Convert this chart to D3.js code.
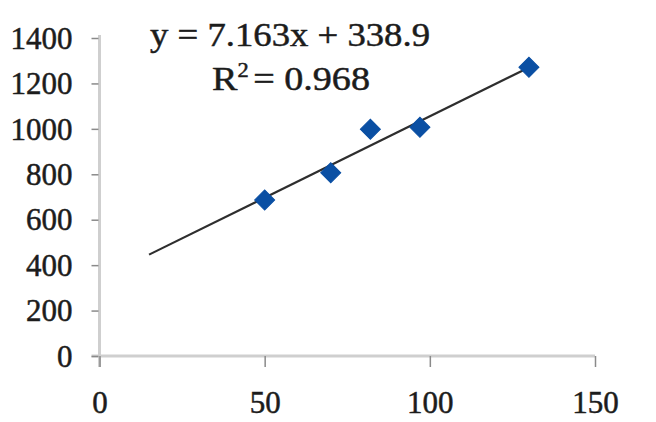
<!DOCTYPE html>
<html>
<head>
<meta charset="utf-8">
<script src="https://cdn.jsdelivr.net/npm/d3@7"></script>
<style>
  html, body { margin: 0; padding: 0; background: #fff; }
  svg { display: block; }
  text { font-family: "Liberation Serif", "Times New Roman", serif; fill: #1c1c1c; stroke: #1c1c1c; stroke-width: 0.5px; }
</style>
</head>
<body>
<div id="chart"></div>
<script>
(function(){
// data
var xValues = [50, 70, 82, 97, 130],
  yValues = [687, 807, 998, 1007, 1271],
  xTicks = [0, 50, 100, 150],
  yTicks = [0, 200, 400, 600, 800, 1000, 1200, 1400],
  slope = 7.163,
  intercept = 338.9,
  trendRange = [15, 130],
  eqLabel = 'y = 7.163x + 338.9',
  r2Label = '0.968';

var W = 656, H = 422,
  m = {left: 99.5, top: 38, right: 61, bottom: 66};

var svg = d3.select('#chart').append('svg').attr('width', W).attr('height', H);

var x = d3.scaleLinear().domain([0, 150]).range([m.left, W - m.right]),
  y = d3.scaleLinear().domain([0, 1400]).range([H - m.bottom, m.top]);

// axis lines
svg.append('line').attr('x1', x(0)).attr('x2', x(0))
  .attr('y1', y(1400) - 3).attr('y2', y(0) + 11)
  .attr('stroke', '#cfcfcf').attr('stroke-width', 3);
svg.append('line').attr('x1', x(0) - 8).attr('x2', x(150))
  .attr('y1', y(0)).attr('y2', y(0))
  .attr('stroke', '#cfcfcf').attr('stroke-width', 3);

var yAxis = svg.append('g').attr('transform', 'translate(' + (x(0) - 1) + ',0)')
  .call(d3.axisLeft(y).tickValues(yTicks).tickFormat(d3.format('d')).tickSize(7).tickPadding(19));
var xAxis = svg.append('g').attr('transform', 'translate(0,' + y(0) + ')')
  .call(d3.axisBottom(x).tickValues(xTicks).tickFormat(d3.format('d')).tickSize(11));

[yAxis, xAxis].forEach(function(g){
  g.select('.domain').remove();
  g.selectAll('.tick line').attr('stroke', '#8a8a8a').attr('stroke-width', 1.5);
  g.selectAll('.tick text').style('font-size', '31px').attr('fill', '#1c1c1c');
});
xAxis.selectAll('.tick text').attr('y', 57).attr('dy', 0);
yAxis.selectAll('.tick text').attr('dy', '0.33em');

// trendline
svg.append('line')
  .attr('x1', x(trendRange[0])).attr('y1', y(slope * trendRange[0] + intercept))
  .attr('x2', x(trendRange[1])).attr('y2', y(slope * trendRange[1] + intercept))
  .attr('stroke', '#2e2e2e').attr('stroke-width', 2.2);

// diamond markers
var diamond = d3.symbol().type(d3.symbolSquare).size(200);
svg.append('g').selectAll('path').data(xValues).join('path')
  .attr('d', diamond)
  .attr('transform', function(d, i){ return 'translate(' + x(d) + ',' + y(yValues[i]) + ') rotate(45)'; })
  .attr('fill', '#0a4fa3').attr('stroke', '#0a4fa3').attr('stroke-width', 1);

// equation labels
svg.append('text').attr('x', 150).attr('y', 46)
  .style('font-size', '34px')
  .attr('textLength', 280).attr('lengthAdjust', 'spacingAndGlyphs')
  .text(eqLabel);

var r2 = svg.append('text').attr('x', 212).attr('y', 90).style('font-size', '34px')
  .attr('textLength', 158).attr('lengthAdjust', 'spacingAndGlyphs');
r2.append('tspan').text('R');
r2.append('tspan').attr('dy', -13).style('font-size', '20px').text('2');
r2.append('tspan').attr('dy', 13).attr('dx', 4).text('= ' + r2Label);
})();
</script>
</body>
</html>
